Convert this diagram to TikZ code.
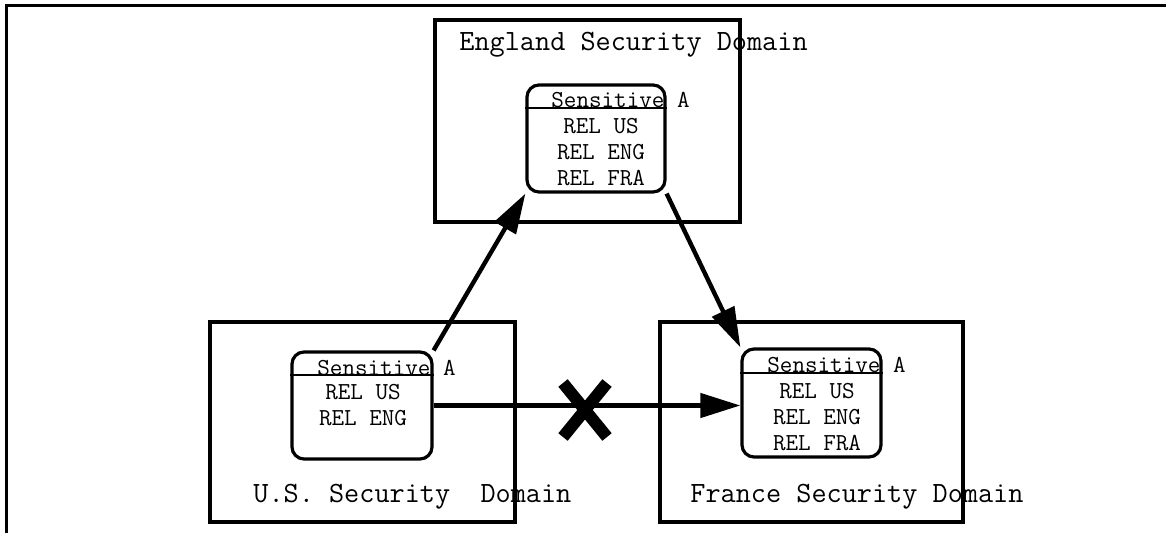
\documentclass[tikz,border=0pt]{standalone}
\usepackage{fontspec}
\usetikzlibrary{arrows.meta}
\begin{document}
\begin{tikzpicture}[x=0.5pt, y=-0.5pt,
    dombox/.style={draw, line width=2pt, minimum width=152.5pt, minimum height=100pt, inner sep=0pt},
    relbox/.style={draw, line width=1.6pt, rounded corners=6pt, minimum width=69.5pt, minimum height=53.5pt, inner sep=0pt},
    domtitle/.style={anchor=west, inner sep=0pt, font=\ttfamily\fontsize{14.7}{17}\selectfont},
    senslabel/.style={anchor=west, inner sep=0pt, font=\ttfamily\fontsize{12.2}{13}\selectfont},
    rellines/.style={align=center, inner sep=0pt, font=\ttfamily\fontsize{12.2}{13}\selectfont},
    flow/.style={line width=2.2pt, -{Triangle[length=20pt,width=12pt]}}]
    \useasboundingbox (0,0) rectangle (1166,533);
    % outer frame
    \draw[line width=1.5pt] (6,533) -- (6,6) -- (1166,6);

    % domains
    \node[dombox, minimum height=101pt] (engdom) at (587.5,121) {};
    \node[dombox] (usdom) at (362.5,422) {};
    \node[dombox, minimum width=151.5pt] (fradom) at (811.5,422) {};
    \node[domtitle] (engtitle) at (459,45) {England Security Domain};
    \node[domtitle] (ustitle) at (253,497) {U.S. Security\ \ Domain};
    \node[domtitle] (fratitle) at (690,497) {France Security Domain};

    % labelled data
    \node[relbox, minimum width=69pt] (engrel) at (596,138.5) {};
    \node[relbox, minimum width=70pt] (usrel) at (362,405.5) {};
    \node[relbox, minimum height=54pt] (frarel) at (811.5,403) {};
    \draw[line width=1pt] (engrel.west |- 0,108) -- (engrel.east |- 0,108);
    \draw[line width=1pt] (usrel.west |- 0,375) -- (usrel.east |- 0,375);
    \draw[line width=1pt] (frarel.west |- 0,373) -- (frarel.east |- 0,373);
    \node[senslabel] (engsens) at (551,100) {Sensitive A};
    \node[senslabel] (ussens) at (317,368) {Sensitive A};
    \node[senslabel] (frasens) at (767,365) {Sensitive A};
    \node[rellines] (engrels) at (601,152) {REL US\\REL ENG\\REL FRA};
    \node[rellines] (usrels) at (363,405.5) {REL US\\REL ENG};
    \node[rellines] (frarels) at (817,417) {REL US\\REL ENG\\REL FRA};

    % transfers
    \draw[flow] (usrel.north east) -- (engrel.south west);
    \draw[flow] (engrel.south east) -- (frarel.north west);
    \draw[flow] (usrel.east) -- (usrel.east -| frarel.west);
    \coordinate (blocked) at (585,410);
    \draw[line width=6pt] ([shift={(-22,-27)}]blocked) -- ([shift={(22,27)}]blocked);
    \draw[line width=6pt] ([shift={(22,-27)}]blocked) -- ([shift={(-22,27)}]blocked);
\end{tikzpicture}
\end{document}
